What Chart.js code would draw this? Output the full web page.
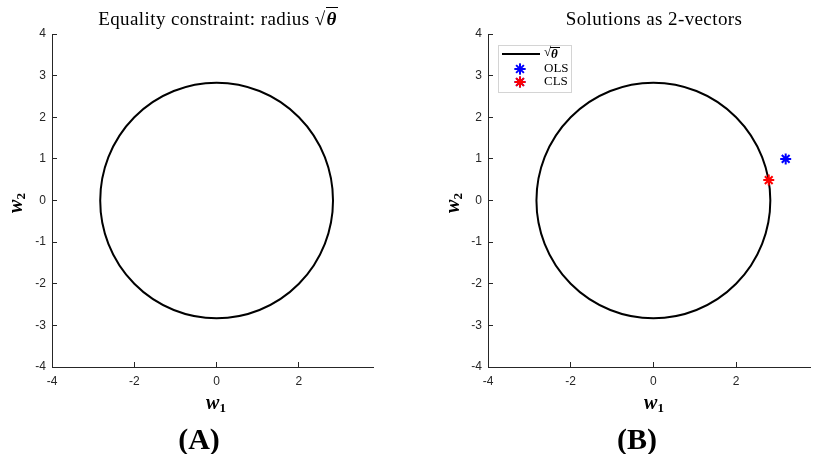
<!DOCTYPE html>
<html>
<head>
<meta charset="utf-8">
<script src="https://cdn.jsdelivr.net/npm/chart.js@4.4.1/dist/chart.umd.min.js"></script>
<style>
    body { margin: 0; background: #fff; }
    #wrap { position: relative; width: 813px; height: 454px; background: #fff; overflow: hidden; }
    canvas { position: absolute; top: 0; }
    .txt { position: absolute; font-family: "Liberation Serif", "DejaVu Serif", serif; color: #000; white-space: nowrap; }
    .title { font-size: 19px; line-height: 22px; text-align: center; width: 400px; top: 8px; letter-spacing: 0.4px; }
    .axlab { font-size: 20px; font-weight: bold; font-style: italic; line-height: 22px; text-align: center; width: 40px; }
    .axlab sub { font-style: normal; font-size: 13px; vertical-align: -3px; }
    .panel { font-size: 30px; font-weight: bold; line-height: 32px; text-align: center; width: 80px; top: 423px; }
    .sq { border-top: 1.5px solid #000; padding: 0 1px; font-weight: bold; font-style: italic; }
</style>
</head>
<body>
<div id="wrap">
    <canvas id="chartA" width="400" height="454" style="left:0"></canvas>
    <canvas id="chartB" width="382" height="454" style="left:436px"></canvas>

    <div class="txt title" style="left:18px">Equality constraint: radius √<span class="sq">θ</span></div>
    <div class="txt title" style="left:454px">Solutions as 2-vectors</div>

    <div class="txt axlab" style="left:196px;top:391px">w<sub>1</sub></div>
    <div class="txt axlab" style="left:634px;top:391px">w<sub>1</sub></div>
    <div class="txt axlab" style="left:-2px;top:189px;transform:rotate(-90deg)">w<sub>2</sub></div>
    <div class="txt axlab" style="left:435px;top:189px;transform:rotate(-90deg)">w<sub>2</sub></div>

    <div class="txt panel" style="left:159px">(A)</div>
    <div class="txt panel" style="left:597px">(B)</div>
</div>
<script>
// Data
const xTicks = [-4, -2, 0, 2]
const yTicks = [-4, -3, -2, -1, 0, 1, 2, 3, 4]
const xRange = [-4, 3.8]
const yRange = [-4, 4]
const theta = 8 // circle radius is sqrt(theta)
const olsPoint = [{ x: 3.2, y: 1.0 }]
const clsPoint = [{ x: 2.79, y: 0.49 }]

const axisColor = "#262626"

// draws the constraint circle through the chart scales
const circlePlugin = {
    id: "circle",
    beforeDatasetsDraw(chart) {
        const xs = chart.scales.x
        const ys = chart.scales.y
        const r = Math.sqrt(theta)
        const cx = xs.getPixelForValue(0)
        const cy = ys.getPixelForValue(0)
        const rx = xs.getPixelForValue(r) - cx
        const ry = cy - ys.getPixelForValue(r)
        const ctx = chart.ctx
        ctx.save()
        ctx.beginPath()
        ctx.ellipse(cx, cy, rx, ry, 0, 0, Math.PI * 2)
        ctx.strokeStyle = "#000"
        ctx.lineWidth = 2
        ctx.stroke()
        ctx.restore()
    },
}

// legend box in the top-left corner of panel B
const legendPlugin = {
    id: "boxLegend",
    afterDraw(chart) {
        const ctx = chart.ctx
        const a = chart.chartArea
        const bx = a.left + 10
        const by = a.top + 11
        ctx.save()
        ctx.fillStyle = "#fff"
        ctx.fillRect(bx, by, 73, 47)
        ctx.strokeStyle = "#d4d4d4"
        ctx.lineWidth = 1
        ctx.strokeRect(bx + 0.5, by + 0.5, 73, 47)

        // line entry
        ctx.beginPath()
        ctx.moveTo(bx + 4, by + 9)
        ctx.lineTo(bx + 42, by + 9)
        ctx.strokeStyle = "#000"
        ctx.lineWidth = 2
        ctx.stroke()

        ctx.fillStyle = "#000"
        ctx.textBaseline = "middle"
        ctx.font = "13px 'Liberation Serif'"
        ctx.fillText("√", bx + 46, by + 8)
        ctx.font = "bold italic 13px 'Liberation Serif'"
        ctx.fillText("θ", bx + 53, by + 10)
        ctx.beginPath()
        ctx.moveTo(bx + 52, by + 2.5)
        ctx.lineTo(bx + 62, by + 2.5)
        ctx.lineWidth = 1
        ctx.stroke()

        const entries = [
            { label: "OLS", color: "#0000ff", y: by + 24 },
            { label: "CLS", color: "#ff0000", y: by + 37 },
        ]
        ctx.font = "13px 'Liberation Serif'"
        entries.forEach((e) => {
            Chart.helpers.drawPoint(ctx, { pointStyle: "star", radius: 5.5, borderWidth: 2 }, bx + 22, e.y)
            ctx.strokeStyle = e.color
            ctx.lineWidth = 2
            ctx.stroke()
            ctx.fillStyle = "#000"
            ctx.fillText(e.label, bx + 46, e.y)
        })
        ctx.restore()
    },
}

function makeOptions(rightPad) {
    const tickFont = { family: "'Liberation Sans', Arial, sans-serif", size: 12 }
    return {
        responsive: false,
        animation: false,
        layout: { padding: { left: 0, right: rightPad, top: 34, bottom: 37 } },
        plugins: { legend: { display: false }, tooltip: { enabled: false }, title: { display: false } },
        scales: {
            x: {
                type: "linear",
                min: xRange[0],
                max: xRange[1],
                afterBuildTicks: (s) => {
                    s.ticks = xTicks.map((v) => ({ value: v }))
                },
                afterFit: (s) => {
                    s.height = 50
                },
                grid: { drawOnChartArea: false, tickLength: -5, color: axisColor, lineWidth: 1 },
                border: { color: axisColor, width: 1 },
                ticks: { font: tickFont, color: axisColor, padding: 12, maxRotation: 0, autoSkip: false },
            },
            y: {
                type: "linear",
                min: yRange[0],
                max: yRange[1],
                afterBuildTicks: (s) => {
                    s.ticks = yTicks.map((v) => ({ value: v }))
                },
                afterFit: (s) => {
                    s.width = 52
                },
                grid: { drawOnChartArea: false, tickLength: -5, color: axisColor, lineWidth: 1 },
                border: { color: axisColor, width: 1 },
                ticks: { font: tickFont, color: axisColor, padding: 11, autoSkip: false },
            },
        },
    }
}

document.addEventListener("DOMContentLoaded", () => {
    new Chart(document.getElementById("chartA").getContext("2d"), {
        type: "scatter",
        data: { datasets: [] },
        options: makeOptions(27),
        plugins: [circlePlugin],
    })

    new Chart(document.getElementById("chartB").getContext("2d"), {
        type: "scatter",
        data: {
            datasets: [
                {
                    label: "OLS",
                    data: olsPoint,
                    pointStyle: "star",
                    pointRadius: 5.5,
                    borderWidth: 2,
                    borderColor: "#0000ff",
                    backgroundColor: "#0000ff",
                },
                {
                    label: "CLS",
                    data: clsPoint,
                    pointStyle: "star",
                    pointRadius: 5.5,
                    borderWidth: 2,
                    borderColor: "#ff0000",
                    backgroundColor: "#ff0000",
                },
            ],
        },
        options: makeOptions(3),
        plugins: [circlePlugin, legendPlugin],
    })
})
</script>
</body>
</html>
